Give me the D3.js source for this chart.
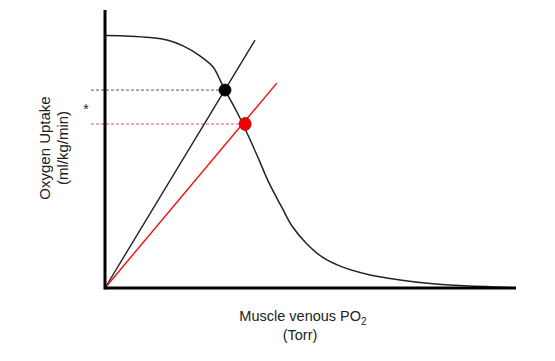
<!DOCTYPE html>
<html>
<head>
<meta charset="utf-8">
<script src="https://cdn.jsdelivr.net/npm/d3@7"></script>
<style>
  body { margin: 0; background: #fff; }
  text { font-family: "Liberation Sans", Arial, sans-serif; fill: #222; }
</style>
</head>
<body>
<div id="chart"></div>
<script>
// uptake curve (PO2 -> O2 uptake), both in arbitrary 0-100 units
var curvePO2 = [0, 6.1, 10.9, 15.1, 19.0, 23.1, 26.3, 28.0, 29.2, 32.1, 35.0, 37.5, 39.9, 43.1, 45.5, 48.9, 52.8, 57.7, 64.5, 71.8, 79.1, 86.4, 98.5];
var curveVO2 = [90.8, 90.6, 90.1, 89.2, 87.1, 83.5, 79.5, 74.8, 71.2, 63.3, 54.3, 46.0, 37.8, 28.8, 22.3, 16.2, 11.2, 7.6, 4.7, 2.9, 1.6, 0.9, 0.2];

// Fick lines from origin
var lineNames = ["normal", "reduced"];
var lineEndPO2 = [36.5, 41.8];
var lineEndVO2 = [89.2, 73.7];
var lineColors = ["#222", "#f01010"];

// intersection points
var pointPO2 = [29.2, 34.1];
var pointVO2 = [71.2, 59.0];

var W = 555, H = 361;
var svg = d3.select("#chart").append("svg")
    .attr("width", W).attr("height", H);

var x = d3.scaleLinear().domain([0, 100]).range([105, 516]);
var y = d3.scaleLinear().domain([0, 100]).range([288, 10]);

// dashed guides
pointVO2.forEach(function (v, i) {
    svg.append("line")
        .attr("x1", x(-3.4)).attr("x2", x(pointPO2[i]))
        .attr("y1", y(v)).attr("y2", y(v))
        .attr("stroke", i == 0 ? "#555" : "#f05050")
        .attr("stroke-width", 1)
        .attr("stroke-dasharray", "3,2");
});

// Fick lines
lineNames.forEach(function (n, i) {
    svg.append("line")
        .attr("x1", x(0)).attr("y1", y(0))
        .attr("x2", x(lineEndPO2[i])).attr("y2", y(lineEndVO2[i]))
        .attr("stroke", lineColors[i])
        .attr("stroke-width", 1.4);
});

// curve
var pts = curvePO2.map(function (d, i) { return [d, curveVO2[i]]; });
svg.append("path")
    .datum(pts)
    .attr("fill", "none")
    .attr("stroke", "#222")
    .attr("stroke-width", 1.5)
    .attr("d", d3.line()
        .x(function (d) { return x(d[0]); })
        .y(function (d) { return y(d[1]); })
        .curve(d3.curveCatmullRom.alpha(0.5)));

// axes (plain lines, no ticks)
svg.append("line")
    .attr("x1", x(0)).attr("x2", x(0))
    .attr("y1", y(100)).attr("y2", y(0) + 1.5)
    .attr("stroke", "#000").attr("stroke-width", 3);
svg.append("line")
    .attr("x1", x(0)).attr("x2", x(100))
    .attr("y1", y(0)).attr("y2", y(0))
    .attr("stroke", "#000").attr("stroke-width", 3);

// points
pointPO2.forEach(function (p, i) {
    svg.append("ellipse")
        .attr("cx", x(p)).attr("cy", y(pointVO2[i]))
        .attr("rx", 6).attr("ry", i == 0 ? 6 : 6.5)
        .attr("fill", i == 0 ? "#000" : "#f00000")
        .attr("stroke", i == 0 ? "#000" : "#b00000")
        .attr("stroke-width", 0.8);
});

// asterisk
svg.append("text")
    .attr("x", 86).attr("y", 114)
    .attr("text-anchor", "middle")
    .style("font-size", "14px")
    .text("*");

// labels
var yl = svg.append("text")
    .attr("transform", "translate(50,148) rotate(-90)")
    .attr("text-anchor", "middle")
    .style("font-size", "15px");
yl.append("tspan").attr("x", 0).attr("dy", 0).text("Oxygen Uptake");
yl.append("tspan").attr("x", 0).attr("dy", 18).text("(ml/kg/min)");

var xl = svg.append("text")
    .attr("x", 303).attr("y", 321)
    .attr("text-anchor", "middle")
    .style("font-size", "14.5px");
xl.append("tspan").text("Muscle venous PO");
xl.append("tspan").attr("dy", 4).style("font-size", "10px").text("2");
svg.append("text")
    .attr("x", 300).attr("y", 340)
    .attr("text-anchor", "middle")
    .style("font-size", "14.5px")
    .text("(Torr)");
</script>
</body>
</html>
